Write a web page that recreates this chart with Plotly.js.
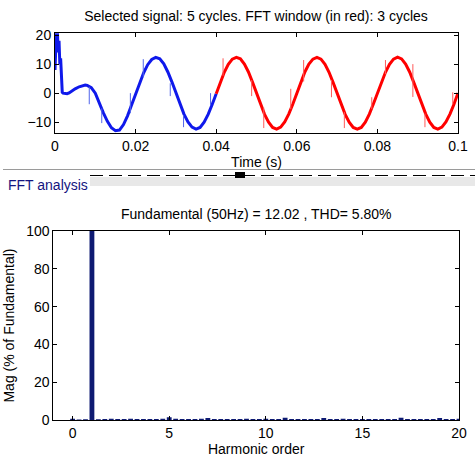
<!DOCTYPE html>
<html>
<head>
<meta charset="utf-8">
<script src="https://cdn.plot.ly/plotly-3.0.1.min.js"></script>
<style>
  html, body { margin: 0; padding: 0; background: #ffffff; }
  #chart { width: 475px; height: 464px; }
</style>
</head>
<body>
<div id="chart"></div>
<script>
// Selected signal: first two cycles (blue), including the start-up transient
const blueT = [0, 0.0002, 0.0004, 0.0006, 0.0008, 0.001, 0.0012, 0.0014, 0.0016, 0.0018,
  0.002, 0.0025, 0.003, 0.0035, 0.004, 0.005, 0.006, 0.007, 0.0075, 0.008, 0.009,
  0.010, 0.011, 0.012, 0.013, 0.014, 0.015, 0.016, 0.017, 0.018, 0.019,
  0.020, 0.021, 0.022, 0.023, 0.024, 0.025, 0.026, 0.027, 0.028, 0.029,
  0.030, 0.031, 0.032, 0.033, 0.034, 0.035, 0.036, 0.037, 0.038, 0.039, 0.040];
const blueV = [8, 18, 23, 21, 14, 18, 10, 12, 4, 0.3,
  0, -0.1, -0.2, 0.1, 0.6, 1.5, 2.2, 2.6, 2.8, 2.7, 1.9,
  0.0, -3.6, -6.8, -9.7, -11.9, -12.9, -12.7, -10.8, -7.8, -4.1,
  -0.3, 3.6, 7.0, 9.8, 11.6, 12.3, 11.8, 10.1, 7.3, 3.9,
  0.1, -3.7, -7.2, -9.9, -11.7, -12.4, -11.8, -10.0, -7.3, -3.9, -0.2];

// FFT window: last three cycles (red)
const redT = [0.040, 0.041, 0.042, 0.043, 0.044, 0.045, 0.046, 0.047, 0.048, 0.049,
  0.050, 0.051, 0.052, 0.053, 0.054, 0.055, 0.056, 0.057, 0.058, 0.059,
  0.060, 0.061, 0.062, 0.063, 0.064, 0.065, 0.066, 0.067, 0.068, 0.069,
  0.070, 0.071, 0.072, 0.073, 0.074, 0.075, 0.076, 0.077, 0.078, 0.079,
  0.080, 0.081, 0.082, 0.083, 0.084, 0.085, 0.086, 0.087, 0.088, 0.089,
  0.090, 0.091, 0.092, 0.093, 0.094, 0.095, 0.096, 0.097, 0.098, 0.099, 0.100];
const redV = [-0.2, 3.7, 7.2, 9.9, 11.7, 12.3, 11.8, 10.0, 7.3, 3.8,
  0.0, -3.8, -7.3, -10.0, -11.8, -12.4, -11.7, -9.9, -7.2, -3.8,
  0.1, 3.8, 7.3, 10.0, 11.7, 12.3, 11.7, 9.9, 7.2, 3.7,
  -0.1, -3.9, -7.3, -10.0, -11.8, -12.4, -11.8, -10.0, -7.2, -3.7,
  0.0, 3.8, 7.2, 9.9, 11.7, 12.4, 11.8, 10.0, 7.3, 3.8,
  0.0, -3.8, -7.2, -10.0, -11.8, -12.4, -11.7, -9.9, -7.2, -3.8, 0.1];

// Commutation notches: time, lower and upper value of each spike
const spikeBlueT  = [0.0085, 0.0116, 0.0187, 0.0219, 0.0286, 0.0319, 0.0386];
const spikeBlueLo = [-3.8, -10.3, -6.9, 5.5, -1.0, -11.7, -4.1];
const spikeBlueHi = [2.2, -5.2, 0.0, 11.7, 3.4, -7.6, 0.0];
const spikeRedT  = [0.0417, 0.0488, 0.0518, 0.0585, 0.0617, 0.0686, 0.0718, 0.0786, 0.0820, 0.0888, 0.0918, 0.0987];
const spikeRedLo = [6.0, -1.0, -12.0, -5.5, 4.0, -1.4, -12.0, -5.5, 6.5, -1.3, -11.7, -3.8];
const spikeRedHi = [12.0, 4.5, -5.0, 1.5, 11.4, 4.5, -6.5, -1.4, 11.4, 10.0, -7.0, 0.3];

// Spectrum: harmonic order in steps of 1/3 (3-cycle window), magnitude in % of fundamental
const harmonicOrder = [];
for (let k = 0; k <= 60; k++) harmonicOrder.push(k / 3);
const harmonicMag = [
  0.6, 0.3, 0.4, 100, 0.4, 0.5, 0.6, 0.5, 0.5, 0.6,
  0.5, 0.5, 0.5, 0.5, 0.6, 1.4, 0.6, 0.5, 0.5, 0.5,
  0.6, 1.1, 0.5, 0.5, 0.5, 0.5, 0.5, 0.6, 0.5, 0.5,
  0.6, 0.5, 0.5, 1.2, 0.5, 0.5, 0.5, 0.5, 0.5, 1.1,
  0.5, 0.5, 0.6, 0.5, 0.5, 0.5, 0.5, 0.5, 0.5, 0.5,
  0.5, 1.2, 0.5, 0.5, 0.5, 0.5, 0.5, 1.1, 0.5, 0.5, 0.6];

const timeTicks = [0, 0.02, 0.04, 0.06, 0.08, 0.1];
const timeTickText = ['0', '0.02', '0.04', '0.06', '0.08', '0.1'];

const W = 475, H = 464;
const px = x => x / W;
const py = y => 1 - y / H;

function spikeTrace(ts, lo, hi, color, xa, ya) {
  const xs = [], ys = [];
  ts.forEach((t, i) => { xs.push(t, t, null); ys.push(lo[i], hi[i], null); });
  return { x: xs, y: ys, type: 'scatter', mode: 'lines', xaxis: xa, yaxis: ya,
           line: { color: color, width: 1 }, hoverinfo: 'skip', showlegend: false };
}

const FONT = 'Liberation Sans, Arial, sans-serif';

const traces = [
  { x: blueT, y: blueV, type: 'scatter', mode: 'lines', xaxis: 'x', yaxis: 'y',
    line: { color: 'rgb(15,25,235)', width: 3 }, showlegend: false },
  { x: redT, y: redV, type: 'scatter', mode: 'lines', xaxis: 'x', yaxis: 'y',
    line: { color: 'rgb(255,0,0)', width: 3 }, showlegend: false },
  spikeTrace(spikeBlueT, spikeBlueLo, spikeBlueHi, 'rgb(80,100,235)', 'x', 'y'),
  spikeTrace(spikeRedT, spikeRedLo, spikeRedHi, 'rgb(255,90,90)', 'x', 'y'),
  { x: harmonicOrder, y: harmonicMag, type: 'bar', xaxis: 'x2', yaxis: 'y2',
    width: 0.25, marker: { color: '#0e1a72', line: { width: 0 } }, showlegend: false }
];

const axisCommon = {
  showline: true, linecolor: '#000', linewidth: 1, mirror: 'ticks',
  ticks: 'inside', ticklen: 4, tickcolor: '#000', tickwidth: 1,
  showgrid: false, zeroline: false, automargin: false,
  tickfont: { family: FONT, size: 14, color: '#000' }
};

const layout = {
  width: W, height: H,
  margin: { l: 0, r: 0, t: 0, b: 0 },
  paper_bgcolor: '#ffffff', plot_bgcolor: '#ffffff',
  font: { family: FONT, size: 14, color: '#000' },
  title: { text: 'Selected signal: 5 cycles. FFT window (in red): 3 cycles',
           x: px(256), xref: 'paper', xanchor: 'center',
           y: py(16.5), yref: 'paper', yanchor: 'middle',
           font: { family: FONT, size: 14, color: '#000' } },
  xaxis: Object.assign({}, axisCommon, {
    domain: [px(55), px(458)], range: [0, 0.1], anchor: 'y',
    tickvals: timeTicks, ticktext: timeTickText,
    title: { text: 'Time (s)', standoff: 4, font: { family: FONT, size: 14 } }
  }),
  yaxis: Object.assign({}, axisCommon, {
    domain: [py(132.7), py(33.3)], range: [-13.6, 20.6], anchor: 'x', dtick: 10
  }),
  xaxis2: Object.assign({}, axisCommon, {
    domain: [px(53.3), px(459)], range: [-1, 20], anchor: 'y2', dtick: 5,
    title: { text: 'Harmonic order', standoff: 4, font: { family: FONT, size: 14 } }
  }),
  yaxis2: Object.assign({}, axisCommon, {
    domain: [py(420), py(231)], range: [0, 100], anchor: 'x2', dtick: 20,
    title: { text: 'Mag (% of Fundamental)', standoff: 8, font: { family: FONT, size: 14 } }
  }),
  shapes: [
    { type: 'line', xref: 'paper', yref: 'paper', x0: px(3), x1: px(475), y0: py(169.5), y1: py(169.5),
      line: { color: '#9a9a9a', width: 1 } },
    { type: 'rect', xref: 'paper', yref: 'paper', x0: px(90), x1: px(475), y0: py(186), y1: py(177),
      fillcolor: '#e8e8e8', line: { width: 0 } },
    { type: 'line', xref: 'paper', yref: 'paper', x0: px(90), x1: px(475), y0: py(175.5), y1: py(175.5),
      line: { color: '#000', width: 1, dash: '13px,6px' } },
    { type: 'rect', xref: 'paper', yref: 'paper', x0: px(235), x1: px(245), y0: py(178), y1: py(172),
      fillcolor: '#000', line: { width: 0 } }
  ],
  annotations: [
    { text: 'FFT analysis', xref: 'paper', yref: 'paper', x: px(6), y: py(185),
      xanchor: 'left', yanchor: 'middle', showarrow: false,
      font: { family: FONT, size: 14, color: '#141480' } },
    { text: 'Fundamental (50Hz) = 12.02 , THD= 5.80%', xref: 'paper', yref: 'paper',
      x: px(256), y: py(213.5), xanchor: 'center', yanchor: 'middle', showarrow: false,
      font: { family: FONT, size: 14, color: '#000' } }
  ]
};

Plotly.newPlot('chart', traces, layout, { staticPlot: true, displayModeBar: false });
</script>
</body>
</html>
